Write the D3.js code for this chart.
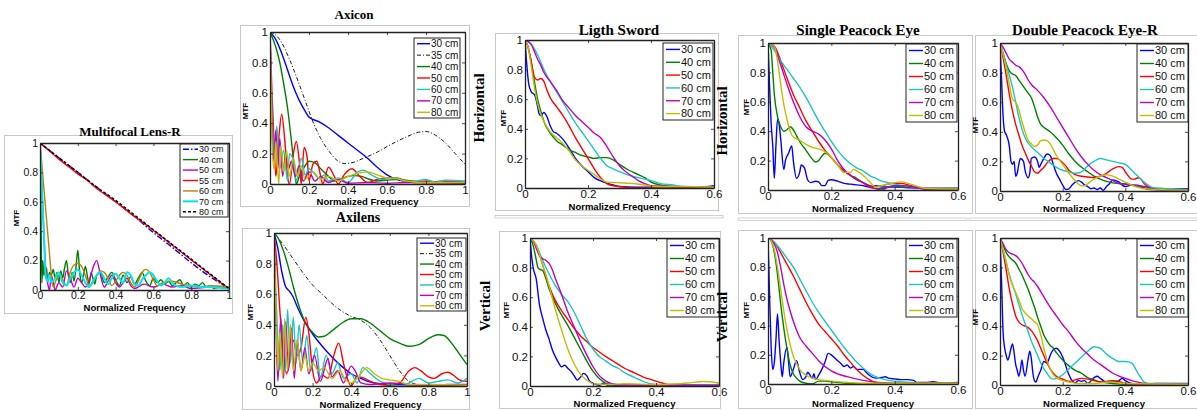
<!DOCTYPE html>
<html><head><meta charset="utf-8">
<script src="https://cdn.jsdelivr.net/npm/d3@7"></script>
<style>body{margin:0;background:#fff}svg{display:block}</style>
</head><body><svg id="c" width="1197" height="410"></svg>
<script>
// ---------- tick & label arrays ----------
const yTicks = [0, 0.2, 0.4, 0.6, 0.8, 1];
const xTicks10 = [0, 0.2, 0.4, 0.6, 0.8, 1];
const xTicks06 = [0, 0.2, 0.4, 0.6];
const labelsMF = ["30 cm","40 cm","50 cm","55 cm","60 cm","70 cm","80 cm"];
const labelsAx = ["30 cm","35 cm","40 cm","50 cm","60 cm","70 cm","80 cm"];
const labels6 = ["30 cm","40 cm","50 cm","60 cm","70 cm","80 cm"];

// ---------- Multifocal Lens-R ----------
const mf30 = [[0,1],[0.1,0.9],[0.2,0.8],[0.3,0.7],[0.4,0.6],[0.5,0.5],[0.6,0.39],[0.7,0.29],[0.8,0.185],[0.9,0.09],[1,0.01]];
const mf40 = [[0,1],[0.005,0.5],[0.01,0.05],[0.015,0.2],[0.02,0.1],[0.025,0.17],[0.03,0.08],[0.035,0.15],[0.04,0.05],[0.05,0.12],[0.06,0.1],[0.07,0.14],[0.08,0.08],[0.09,0.12],[0.1,0.05],[0.11,0.13],[0.12,0.08],[0.13,0.15],[0.14,0.2],[0.15,0.1],[0.16,0.05],[0.17,0.12],[0.18,0.06],[0.19,0.15],[0.2,0.27],[0.21,0.12],[0.22,0.05],[0.23,0.1],[0.24,0.16],[0.25,0.1],[0.26,0.04],[0.27,0.12],[0.28,0.08],[0.29,0.04],[0.3,0.1],[0.32,0.12],[0.34,0.05],[0.36,0.09],[0.38,0.12],[0.4,0.07],[0.42,0.03],[0.44,0.1],[0.46,0.05],[0.48,0.09],[0.5,0.04],[0.52,0.08],[0.54,0.12],[0.56,0.06],[0.58,0.03],[0.6,0.08],[0.62,0.05],[0.64,0.07],[0.66,0.04],[0.68,0.06],[0.7,0.03],[0.72,0.05],[0.74,0.07],[0.76,0.03],[0.78,0.05],[0.8,0.02],[0.82,0.04],[0.84,0.03],[0.86,0.05],[0.88,0.02],[0.9,0.03],[0.92,0.01],[0.95,0.02],[0.98,0.015],[1,0.01]];
const mf50 = [[0,1],[0.01,0.7],[0.02,0.4],[0.03,0.15],[0.04,0.05],[0.05,0.0],[0.06,0.1],[0.07,0.05],[0.08,0.0],[0.1,0.05],[0.12,0.02],[0.14,0.13],[0.16,0.08],[0.18,0.02],[0.2,0.08],[0.22,0.05],[0.24,0.02],[0.26,0.06],[0.28,0.15],[0.3,0.2],[0.32,0.1],[0.34,0.02],[0.36,0.06],[0.38,0.1],[0.4,0.05],[0.42,0.02],[0.44,0.05],[0.46,0.08],[0.48,0.03],[0.5,0.01],[0.55,0.04],[0.6,0.02],[0.65,0.04],[0.7,0.02],[0.75,0.03],[0.8,0.01],[0.9,0.02],[1,0.01]];
const mf55 = [[0,1],[0.05,0.945],[0.1,0.89],[0.15,0.84],[0.2,0.79],[0.25,0.745],[0.3,0.69],[0.35,0.645],[0.4,0.6],[0.45,0.55],[0.5,0.5],[0.55,0.455],[0.6,0.405],[0.65,0.355],[0.7,0.305],[0.75,0.255],[0.8,0.205],[0.85,0.155],[0.9,0.105],[0.95,0.055],[1,0.01]];
const mf60 = [[0,1],[0.01,0.85],[0.02,0.7],[0.03,0.55],[0.04,0.4],[0.05,0.25],[0.06,0.1],[0.07,0.02],[0.08,0.05],[0.1,0.1],[0.12,0.07],[0.14,0.03],[0.16,0.12],[0.18,0.17],[0.2,0.18],[0.22,0.16],[0.24,0.1],[0.26,0.03],[0.28,0.05],[0.3,0.1],[0.32,0.13],[0.34,0.12],[0.36,0.08],[0.38,0.03],[0.4,0.06],[0.42,0.1],[0.44,0.12],[0.46,0.1],[0.48,0.05],[0.5,0.02],[0.52,0.06],[0.54,0.12],[0.56,0.14],[0.58,0.12],[0.6,0.07],[0.62,0.03],[0.65,0.05],[0.7,0.06],[0.75,0.04],[0.8,0.03],[0.85,0.02],[0.9,0.03],[1,0.02]];
const mf70 = [[0,1],[0.01,0.7],[0.02,0.4],[0.03,0.1],[0.04,0.06],[0.05,0.1],[0.06,0.05],[0.08,0.08],[0.1,0.12],[0.12,0.05],[0.14,0.03],[0.16,0.08],[0.18,0.12],[0.2,0.14],[0.22,0.1],[0.24,0.05],[0.26,0.02],[0.28,0.06],[0.3,0.1],[0.32,0.12],[0.34,0.08],[0.36,0.04],[0.38,0.08],[0.4,0.11],[0.42,0.08],[0.44,0.05],[0.46,0.12],[0.48,0.1],[0.5,0.04],[0.52,0.03],[0.54,0.07],[0.56,0.1],[0.58,0.12],[0.6,0.1],[0.62,0.06],[0.64,0.03],[0.66,0.05],[0.68,0.08],[0.7,0.05],[0.72,0.03],[0.75,0.02],[0.8,0.03],[0.85,0.02],[0.9,0.02],[0.95,0.015],[1,0.01]];
const mf80 = [[0,1],[0.1,0.9],[0.2,0.8],[0.3,0.7],[0.4,0.61],[0.5,0.51],[0.6,0.41],[0.7,0.31],[0.8,0.21],[0.9,0.11],[1,0.01]];

// ---------- Axicon ----------
const ax30 = [[0,1],[0.03,0.95],[0.06,0.86],[0.09,0.75],[0.12,0.64],[0.15,0.55],[0.18,0.48],[0.2,0.44],[0.25,0.41],[0.3,0.37],[0.35,0.32],[0.4,0.27],[0.45,0.22],[0.5,0.17],[0.55,0.11],[0.6,0.06],[0.65,0.03],[0.7,0.015],[0.8,0.01],[1,0.01]];
const ax35 = [[0,1],[0.03,0.98],[0.06,0.93],[0.1,0.82],[0.14,0.69],[0.18,0.55],[0.22,0.41],[0.26,0.3],[0.3,0.22],[0.34,0.16],[0.38,0.135],[0.42,0.14],[0.48,0.17],[0.55,0.21],[0.62,0.26],[0.7,0.31],[0.76,0.34],[0.8,0.345],[0.85,0.32],[0.9,0.27],[0.95,0.2],[1,0.13]];
const ax40 = [[0,1],[0.03,0.9],[0.05,0.8],[0.07,0.66],[0.09,0.5],[0.11,0.28],[0.125,0.1],[0.135,0.0],[0.15,0.05],[0.18,0.12],[0.2,0.15],[0.23,0.14],[0.26,0.1],[0.3,0.05],[0.33,0.02],[0.36,0.03],[0.4,0.05],[0.43,0.055],[0.47,0.05],[0.5,0.035],[0.55,0.02],[0.6,0.025],[0.65,0.03],[0.7,0.025],[0.8,0.01],[0.9,0.02],[1,0.01]];
const ax50 = [[0,1],[0.01,0.6],[0.02,0.3],[0.03,0.05],[0.045,0.3],[0.06,0.46],[0.075,0.3],[0.09,0.05],[0.1,0.0],[0.12,0.2],[0.135,0.28],[0.15,0.15],[0.16,0.0],[0.175,0.24],[0.19,0.18],[0.2,0.02],[0.22,0.13],[0.24,0.15],[0.26,0.05],[0.27,0.0],[0.3,0.11],[0.33,0.05],[0.35,0.0],[0.38,0.06],[0.42,0.1],[0.46,0.05],[0.5,0.01],[0.55,0.03],[0.6,0.04],[0.65,0.04],[0.7,0.02],[0.75,0.01],[0.8,0.02],[0.85,0.015],[0.9,0.02],[1,0.01]];
const ax60 = [[0,1],[0.01,0.5],[0.02,0.2],[0.035,0.38],[0.05,0.1],[0.07,0.22],[0.09,0.02],[0.1,0.2],[0.12,0.15],[0.135,0.02],[0.16,0.17],[0.18,0.06],[0.2,0.1],[0.22,0.08],[0.25,0.04],[0.28,0.06],[0.3,0.02],[0.35,0.04],[0.4,0.01],[0.45,0.08],[0.48,0.09],[0.52,0.06],[0.58,0.03],[0.65,0.04],[0.7,0.01],[0.75,0.02],[0.8,0.03],[0.85,0.01],[0.9,0.025],[1,0.02]];
const ax70 = [[0,1],[0.01,0.4],[0.02,0.15],[0.03,0.35],[0.04,0.1],[0.05,0.3],[0.065,0.05],[0.08,0.2],[0.095,0.1],[0.11,0.15],[0.13,0.05],[0.15,0.12],[0.17,0.02],[0.2,0.08],[0.23,0.02],[0.26,0.05],[0.3,0.01],[0.35,0.03],[0.4,0.005],[0.5,0.01],[0.6,0.005],[0.7,0.01],[1,0.005]];
const ax80 = [[0,1],[0.01,0.3],[0.02,0.1],[0.03,0.28],[0.045,0.0],[0.055,0.25],[0.07,0.08],[0.085,0.22],[0.1,0.05],[0.12,0.17],[0.14,0.05],[0.16,0.12],[0.18,0.03],[0.22,0.08],[0.26,0.03],[0.3,0.05],[0.35,0.02],[0.4,0.05],[0.45,0.07],[0.5,0.08],[0.55,0.06],[0.6,0.04],[0.65,0.035],[0.7,0.02],[0.8,0.01],[1,0.01]];

// ---------- Axilens ----------
const al30 = [[0,1],[0.02,0.9],[0.04,0.75],[0.06,0.65],[0.08,0.62],[0.1,0.58],[0.12,0.52],[0.15,0.44],[0.2,0.34],[0.25,0.26],[0.3,0.19],[0.35,0.13],[0.4,0.08],[0.45,0.05],[0.5,0.025],[0.55,0.015],[0.6,0.01],[1,0.005]];
const al35 = [[0,1],[0.05,0.92],[0.1,0.83],[0.15,0.74],[0.2,0.66],[0.25,0.6],[0.3,0.54],[0.35,0.49],[0.4,0.455],[0.45,0.43],[0.5,0.38],[0.55,0.3],[0.6,0.2],[0.65,0.1],[0.7,0.03],[0.75,0.01],[1,0.005]];
const al40 = [[0,1],[0.02,0.97],[0.05,0.88],[0.08,0.75],[0.1,0.65],[0.13,0.52],[0.16,0.42],[0.2,0.35],[0.23,0.32],[0.26,0.325],[0.3,0.36],[0.35,0.41],[0.4,0.44],[0.45,0.44],[0.5,0.41],[0.55,0.36],[0.6,0.31],[0.65,0.28],[0.7,0.26],[0.75,0.27],[0.8,0.31],[0.85,0.335],[0.88,0.33],[0.92,0.28],[0.96,0.21],[1,0.14]];
const al50 = [[0,1],[0.015,0.8],[0.03,0.5],[0.05,0.2],[0.065,0.08],[0.08,0.15],[0.1,0.3],[0.12,0.2],[0.14,0.25],[0.165,0.45],[0.18,0.35],[0.2,0.1],[0.22,0.02],[0.25,0.07],[0.28,0.05],[0.31,0.2],[0.335,0.28],[0.36,0.15],[0.38,0.05],[0.4,0.0],[0.43,0.06],[0.47,0.05],[0.5,0.03],[0.55,0.01],[0.6,0.005],[0.65,0.02],[0.7,0.1],[0.73,0.12],[0.76,0.1],[0.8,0.06],[0.83,0.05],[0.87,0.08],[0.9,0.09],[0.93,0.07],[0.96,0.04],[1,0.03]];
const al60 = [[0,1],[0.01,0.6],[0.02,0.3],[0.03,0.1],[0.045,0.4],[0.06,0.1],[0.07,0.5],[0.085,0.15],[0.1,0.45],[0.115,0.15],[0.13,0.4],[0.15,0.15],[0.17,0.33],[0.19,0.1],[0.22,0.25],[0.24,0.05],[0.27,0.2],[0.3,0.08],[0.33,0.15],[0.36,0.05],[0.4,0.08],[0.43,0.02],[0.46,0.12],[0.5,0.08],[0.55,0.03],[0.6,0.01],[0.65,0.0],[0.7,0.02],[0.75,0.05],[0.8,0.02],[0.85,0.03],[0.9,0.04],[0.95,0.02],[1,0.05]];
const al70 = [[0,1],[0.01,0.4],[0.02,0.03],[0.035,0.45],[0.05,0.05],[0.06,0.42],[0.075,0.1],[0.09,0.38],[0.105,0.05],[0.12,0.3],[0.14,0.1],[0.16,0.25],[0.18,0.08],[0.21,0.2],[0.24,0.03],[0.28,0.18],[0.3,0.06],[0.33,0.1],[0.36,0.02],[0.4,0.13],[0.42,0.1],[0.45,0.02],[0.5,0.01],[0.6,0.02],[0.7,0.01],[0.8,0.0],[0.9,0.01],[1,0.01]];
const al80 = [[0,1],[0.01,0.5],[0.02,0.1],[0.03,0.35],[0.045,0.05],[0.055,0.44],[0.07,0.1],[0.085,0.4],[0.1,0.1],[0.12,0.3],[0.14,0.1],[0.16,0.2],[0.18,0.1],[0.2,0.15],[0.23,0.1],[0.26,0.12],[0.3,0.05],[0.34,0.1],[0.37,0.04],[0.4,0.02],[0.45,0.08],[0.48,0.12],[0.52,0.08],[0.56,0.05],[0.6,0.04],[0.65,0.03],[0.7,0.01],[0.8,0.01],[1,0.005]];

// ---------- Ligth Sword Horizontal ----------
const lsh30 = [[0,1],[0.005,0.85],[0.012,0.7],[0.02,0.65],[0.03,0.63],[0.035,0.6],[0.04,0.55],[0.045,0.5],[0.05,0.49],[0.06,0.51],[0.07,0.48],[0.08,0.42],[0.09,0.38],[0.1,0.37],[0.12,0.33],[0.14,0.27],[0.16,0.2],[0.18,0.15],[0.2,0.11],[0.22,0.07],[0.25,0.04],[0.28,0.02],[0.3,0.01],[0.35,0.005],[0.45,0.01],[0.55,0.005],[0.6,0.015]];
const lsh40 = [[0,1],[0.01,0.95],[0.02,0.85],[0.03,0.72],[0.04,0.6],[0.05,0.52],[0.06,0.45],[0.08,0.37],[0.1,0.32],[0.12,0.29],[0.14,0.26],[0.16,0.24],[0.18,0.22],[0.2,0.21],[0.22,0.2],[0.24,0.205],[0.26,0.205],[0.28,0.19],[0.3,0.16],[0.33,0.12],[0.36,0.09],[0.38,0.07],[0.4,0.04],[0.43,0.02],[0.47,0.01],[0.6,0.005]];
const lsh50 = [[0,1],[0.01,0.95],[0.02,0.85],[0.03,0.75],[0.04,0.73],[0.05,0.74],[0.06,0.72],[0.07,0.66],[0.08,0.61],[0.1,0.55],[0.12,0.49],[0.14,0.42],[0.16,0.34],[0.18,0.27],[0.2,0.2],[0.22,0.13],[0.24,0.07],[0.26,0.03],[0.28,0.015],[0.3,0.01],[0.35,0.0],[0.6,0.0]];
const lsh60 = [[0,1],[0.02,0.97],[0.04,0.9],[0.06,0.8],[0.08,0.72],[0.1,0.65],[0.12,0.58],[0.14,0.51],[0.16,0.44],[0.18,0.38],[0.2,0.32],[0.22,0.26],[0.24,0.2],[0.26,0.15],[0.28,0.13],[0.3,0.11],[0.33,0.085],[0.36,0.07],[0.4,0.05],[0.43,0.03],[0.47,0.02],[0.5,0.01],[0.6,0.005]];
const lsh70 = [[0,1],[0.02,0.97],[0.03,0.92],[0.04,0.87],[0.05,0.83],[0.06,0.78],[0.08,0.72],[0.1,0.66],[0.12,0.59],[0.14,0.54],[0.16,0.49],[0.18,0.45],[0.2,0.41],[0.22,0.37],[0.24,0.34],[0.26,0.28],[0.28,0.21],[0.3,0.15],[0.32,0.11],[0.34,0.08],[0.36,0.05],[0.38,0.03],[0.4,0.015],[0.45,0.01],[0.6,0.005]];
const lsh80 = [[0,1],[0.01,0.95],[0.02,0.82],[0.03,0.68],[0.04,0.57],[0.05,0.5],[0.06,0.45],[0.08,0.38],[0.1,0.34],[0.12,0.3],[0.14,0.25],[0.16,0.19],[0.18,0.15],[0.2,0.12],[0.22,0.09],[0.24,0.06],[0.26,0.04],[0.3,0.035],[0.34,0.03],[0.38,0.02],[0.42,0.01],[0.46,0.01],[0.5,0.01],[0.6,0.005]];

// ---------- Ligth Sword Vertical ----------
const lsv30 = [[0,1],[0.005,0.88],[0.01,0.8],[0.02,0.72],[0.03,0.55],[0.04,0.46],[0.05,0.38],[0.06,0.32],[0.07,0.25],[0.08,0.2],[0.09,0.16],[0.1,0.13],[0.11,0.14],[0.12,0.12],[0.13,0.1],[0.14,0.07],[0.15,0.04],[0.16,0.06],[0.17,0.085],[0.18,0.07],[0.19,0.03],[0.2,0.02],[0.21,0.01],[0.22,0.005],[0.235,0.02],[0.25,0.0],[0.3,0.005],[0.6,0.005]];
const lsv40 = [[0,1],[0.01,0.95],[0.02,0.85],[0.025,0.8],[0.03,0.79],[0.04,0.78],[0.05,0.73],[0.06,0.66],[0.08,0.56],[0.1,0.48],[0.12,0.41],[0.14,0.33],[0.16,0.25],[0.18,0.17],[0.2,0.1],[0.22,0.05],[0.24,0.02],[0.26,0.01],[0.3,0.005],[0.6,0.005]];
const lsv50 = [[0,1],[0.02,0.95],[0.04,0.82],[0.06,0.68],[0.08,0.58],[0.1,0.51],[0.12,0.45],[0.14,0.39],[0.16,0.34],[0.18,0.3],[0.2,0.26],[0.22,0.23],[0.24,0.2],[0.27,0.16],[0.3,0.12],[0.33,0.09],[0.36,0.06],[0.39,0.04],[0.42,0.02],[0.45,0.005],[0.5,0.0],[0.6,0.0]];
const lsv60 = [[0,1],[0.02,0.95],[0.04,0.85],[0.06,0.76],[0.08,0.68],[0.1,0.62],[0.12,0.57],[0.14,0.5],[0.16,0.41],[0.18,0.32],[0.2,0.25],[0.22,0.2],[0.24,0.17],[0.26,0.14],[0.28,0.12],[0.3,0.09],[0.33,0.06],[0.36,0.03],[0.4,0.01],[0.45,0.005],[0.6,0.01]];
const lsv70 = [[0,1],[0.01,0.98],[0.02,0.93],[0.03,0.88],[0.04,0.86],[0.05,0.85],[0.06,0.83],[0.07,0.79],[0.08,0.73],[0.1,0.62],[0.12,0.5],[0.14,0.4],[0.16,0.3],[0.18,0.21],[0.2,0.13],[0.22,0.07],[0.24,0.035],[0.26,0.015],[0.3,0.005],[0.6,0.005]];
const lsv80 = [[0,1],[0.02,0.95],[0.04,0.82],[0.06,0.68],[0.08,0.52],[0.1,0.38],[0.12,0.25],[0.14,0.15],[0.16,0.08],[0.18,0.04],[0.2,0.015],[0.25,0.01],[0.3,0.015],[0.4,0.01],[0.5,0.02],[0.55,0.03],[0.6,0.02]];

// ---------- Single Peacock Eye Horizontal ----------
const speh30 = [[0,1],[0.005,0.7],[0.01,0.45],[0.015,0.3],[0.02,0.08],[0.025,0.3],[0.03,0.48],[0.035,0.45],[0.04,0.35],[0.05,0.14],[0.055,0.2],[0.065,0.25],[0.075,0.3],[0.08,0.2],[0.09,0.08],[0.1,0.12],[0.105,0.17],[0.115,0.15],[0.125,0.07],[0.135,0.05],[0.15,0.06],[0.16,0.055],[0.17,0.03],[0.18,0.03],[0.19,0.065],[0.2,0.07],[0.22,0.06],[0.24,0.045],[0.26,0.04],[0.28,0.035],[0.3,0.03],[0.32,0.02],[0.34,0.03],[0.36,0.02],[0.4,0.02],[0.45,0.015],[0.5,0.01],[0.6,0.01]];
const speh40 = [[0,1],[0.01,0.95],[0.015,0.8],[0.02,0.65],[0.03,0.5],[0.04,0.43],[0.05,0.4],[0.06,0.41],[0.07,0.43],[0.08,0.41],[0.09,0.37],[0.1,0.33],[0.12,0.27],[0.14,0.21],[0.15,0.19],[0.16,0.2],[0.17,0.23],[0.18,0.25],[0.2,0.22],[0.22,0.17],[0.24,0.13],[0.26,0.1],[0.28,0.08],[0.3,0.05],[0.32,0.03],[0.34,0.01],[0.36,0.01],[0.38,0.02],[0.4,0.03],[0.42,0.02],[0.45,0.02],[0.5,0.01],[0.6,0.01]];
const speh50 = [[0,1],[0.02,0.98],[0.04,0.88],[0.06,0.76],[0.08,0.65],[0.1,0.56],[0.12,0.47],[0.14,0.4],[0.16,0.33],[0.18,0.27],[0.2,0.22],[0.22,0.17],[0.24,0.13],[0.26,0.1],[0.28,0.07],[0.3,0.05],[0.32,0.03],[0.34,0.025],[0.36,0.03],[0.38,0.04],[0.4,0.045],[0.42,0.045],[0.45,0.03],[0.48,0.015],[0.5,0.01],[0.6,0.01]];
const speh60 = [[0,1],[0.02,0.95],[0.04,0.88],[0.06,0.82],[0.08,0.76],[0.1,0.7],[0.12,0.63],[0.14,0.55],[0.16,0.47],[0.18,0.4],[0.2,0.33],[0.22,0.27],[0.24,0.22],[0.26,0.18],[0.28,0.15],[0.3,0.13],[0.32,0.1],[0.34,0.08],[0.36,0.06],[0.38,0.05],[0.4,0.04],[0.43,0.03],[0.46,0.02],[0.5,0.01],[0.6,0.01]];
const speh70 = [[0,1],[0.02,0.97],[0.04,0.85],[0.06,0.72],[0.08,0.6],[0.1,0.5],[0.12,0.43],[0.14,0.4],[0.16,0.38],[0.18,0.34],[0.2,0.28],[0.22,0.2],[0.24,0.14],[0.26,0.1],[0.28,0.07],[0.3,0.05],[0.32,0.02],[0.34,0.01],[0.36,0.0],[0.38,0.02],[0.4,0.03],[0.43,0.03],[0.46,0.02],[0.5,0.005],[0.6,0.005]];
const speh80 = [[0,1],[0.01,0.99],[0.02,0.98],[0.03,0.88],[0.04,0.72],[0.05,0.58],[0.06,0.48],[0.07,0.4],[0.08,0.36],[0.1,0.34],[0.12,0.31],[0.14,0.29],[0.16,0.28],[0.18,0.26],[0.2,0.22],[0.22,0.17],[0.24,0.12],[0.26,0.12],[0.27,0.14],[0.28,0.13],[0.3,0.1],[0.32,0.06],[0.34,0.02],[0.36,0.03],[0.38,0.04],[0.4,0.05],[0.42,0.055],[0.45,0.04],[0.48,0.02],[0.5,0.01],[0.6,0.005]];

// ---------- Single Peacock Eye Vertical ----------
const spev30 = [[0,1],[0.005,0.6],[0.01,0.25],[0.015,0.1],[0.02,0.15],[0.025,0.3],[0.03,0.48],[0.035,0.3],[0.04,0.15],[0.045,0.05],[0.05,0.15],[0.06,0.25],[0.065,0.15],[0.07,0.05],[0.08,0.1],[0.09,0.16],[0.1,0.08],[0.11,0.03],[0.12,0.05],[0.125,0.08],[0.13,0.07],[0.14,0.04],[0.145,0.07],[0.15,0.03],[0.16,0.06],[0.17,0.1],[0.18,0.15],[0.19,0.21],[0.2,0.2],[0.21,0.18],[0.22,0.16],[0.23,0.14],[0.24,0.12],[0.25,0.13],[0.26,0.11],[0.27,0.12],[0.28,0.1],[0.3,0.1],[0.31,0.08],[0.32,0.06],[0.34,0.04],[0.36,0.045],[0.37,0.05],[0.38,0.04],[0.4,0.035],[0.42,0.03],[0.44,0.03],[0.46,0.025],[0.47,0.01],[0.5,0.01],[0.52,0.015],[0.55,0.005],[0.6,0.01]];
const spev40 = [[0,1],[0.01,0.98],[0.02,0.9],[0.03,0.75],[0.04,0.55],[0.05,0.38],[0.06,0.24],[0.07,0.13],[0.08,0.07],[0.09,0.04],[0.1,0.02],[0.12,0.005],[0.14,0.0],[0.16,0.02],[0.18,0.02],[0.2,0.015],[0.25,0.005],[0.3,0.0],[0.6,0.0]];
const spev50 = [[0,1],[0.02,0.97],[0.04,0.9],[0.06,0.82],[0.08,0.74],[0.1,0.65],[0.12,0.56],[0.14,0.48],[0.16,0.41],[0.18,0.36],[0.2,0.31],[0.22,0.26],[0.24,0.2],[0.26,0.15],[0.28,0.1],[0.3,0.06],[0.32,0.03],[0.34,0.01],[0.36,0.005],[0.6,0.0]];
const spev60 = [[0,1],[0.02,0.97],[0.04,0.92],[0.06,0.86],[0.08,0.8],[0.1,0.72],[0.12,0.64],[0.14,0.56],[0.16,0.49],[0.18,0.43],[0.2,0.37],[0.22,0.31],[0.24,0.25],[0.26,0.2],[0.28,0.15],[0.3,0.11],[0.32,0.075],[0.34,0.05],[0.36,0.035],[0.38,0.025],[0.4,0.02],[0.45,0.01],[0.5,0.005],[0.6,0.005]];
const spev70 = [[0,1],[0.02,0.96],[0.03,0.9],[0.04,0.8],[0.05,0.68],[0.06,0.58],[0.07,0.5],[0.08,0.43],[0.09,0.37],[0.1,0.32],[0.12,0.26],[0.14,0.21],[0.16,0.16],[0.18,0.12],[0.2,0.09],[0.22,0.07],[0.25,0.05],[0.3,0.025],[0.35,0.01],[0.4,0.005],[0.6,0.005]];
const spev80 = [[0,1],[0.01,0.98],[0.02,0.92],[0.03,0.8],[0.04,0.65],[0.05,0.5],[0.06,0.37],[0.07,0.27],[0.08,0.19],[0.09,0.14],[0.1,0.1],[0.12,0.06],[0.14,0.04],[0.16,0.03],[0.18,0.025],[0.2,0.02],[0.25,0.01],[0.3,0.005],[0.6,0.005]];

// ---------- Double Peacock Eye-R Horizontal ----------
const dpeh30 = [[0,1],[0.005,0.75],[0.01,0.5],[0.015,0.4],[0.02,0.38],[0.03,0.3],[0.035,0.2],[0.04,0.18],[0.045,0.2],[0.05,0.1],[0.055,0.12],[0.06,0.18],[0.065,0.22],[0.075,0.2],[0.08,0.14],[0.09,0.09],[0.095,0.12],[0.1,0.22],[0.11,0.23],[0.12,0.2],[0.125,0.16],[0.13,0.18],[0.14,0.22],[0.15,0.25],[0.16,0.24],[0.17,0.18],[0.18,0.12],[0.19,0.08],[0.2,0.04],[0.21,0.01],[0.22,0.015],[0.23,0.04],[0.24,0.06],[0.25,0.07],[0.26,0.06],[0.27,0.04],[0.28,0.03],[0.29,0.015],[0.3,0.02],[0.31,0.01],[0.32,0.02],[0.33,0.005],[0.34,0.03],[0.35,0.05],[0.36,0.075],[0.37,0.07],[0.38,0.06],[0.39,0.04],[0.4,0.03],[0.42,0.04],[0.44,0.04],[0.46,0.02],[0.48,0.01],[0.5,0.01],[0.55,0.015],[0.6,0.015]];
const dpeh40 = [[0,1],[0.01,0.93],[0.02,0.86],[0.03,0.81],[0.04,0.79],[0.05,0.78],[0.06,0.75],[0.07,0.72],[0.08,0.69],[0.09,0.66],[0.1,0.63],[0.11,0.57],[0.12,0.5],[0.13,0.45],[0.14,0.43],[0.16,0.4],[0.18,0.36],[0.2,0.31],[0.22,0.25],[0.24,0.2],[0.26,0.16],[0.28,0.13],[0.3,0.1],[0.32,0.08],[0.34,0.065],[0.36,0.055],[0.38,0.05],[0.4,0.05],[0.42,0.04],[0.44,0.03],[0.46,0.02],[0.5,0.01],[0.6,0.005]];
const dpeh50 = [[0,1],[0.01,0.9],[0.02,0.78],[0.03,0.65],[0.04,0.54],[0.05,0.45],[0.06,0.38],[0.07,0.31],[0.08,0.26],[0.09,0.21],[0.1,0.17],[0.11,0.13],[0.12,0.12],[0.13,0.14],[0.14,0.16],[0.15,0.19],[0.16,0.21],[0.17,0.22],[0.18,0.22],[0.19,0.21],[0.2,0.19],[0.21,0.17],[0.22,0.14],[0.24,0.11],[0.26,0.1],[0.28,0.095],[0.3,0.09],[0.32,0.1],[0.34,0.12],[0.36,0.15],[0.38,0.165],[0.39,0.16],[0.4,0.13],[0.41,0.1],[0.42,0.08],[0.43,0.08],[0.44,0.09],[0.45,0.08],[0.46,0.05],[0.48,0.02],[0.5,0.01],[0.6,0.005]];
const dpeh60 = [[0,1],[0.01,0.93],[0.02,0.85],[0.03,0.78],[0.04,0.7],[0.05,0.6],[0.06,0.5],[0.07,0.42],[0.08,0.36],[0.1,0.3],[0.12,0.26],[0.14,0.22],[0.16,0.19],[0.18,0.16],[0.2,0.14],[0.22,0.13],[0.24,0.12],[0.26,0.13],[0.28,0.17],[0.3,0.2],[0.32,0.22],[0.34,0.21],[0.36,0.2],[0.38,0.19],[0.4,0.18],[0.42,0.14],[0.44,0.1],[0.46,0.06],[0.48,0.03],[0.5,0.02],[0.55,0.015],[0.6,0.01]];
const dpeh70 = [[0,1],[0.01,0.97],[0.02,0.93],[0.03,0.89],[0.04,0.87],[0.05,0.85],[0.06,0.84],[0.07,0.82],[0.08,0.79],[0.09,0.75],[0.1,0.72],[0.12,0.68],[0.14,0.63],[0.16,0.57],[0.18,0.5],[0.2,0.43],[0.22,0.36],[0.24,0.29],[0.26,0.23],[0.28,0.18],[0.3,0.14],[0.32,0.11],[0.34,0.09],[0.36,0.07],[0.38,0.05],[0.4,0.045],[0.42,0.04],[0.44,0.035],[0.46,0.03],[0.48,0.02],[0.5,0.01],[0.6,0.005]];
const dpeh80 = [[0,1],[0.01,0.92],[0.02,0.83],[0.03,0.72],[0.04,0.62],[0.05,0.6],[0.06,0.55],[0.07,0.47],[0.08,0.4],[0.09,0.34],[0.1,0.32],[0.11,0.3],[0.12,0.31],[0.13,0.34],[0.14,0.345],[0.15,0.34],[0.16,0.32],[0.17,0.28],[0.18,0.24],[0.2,0.18],[0.22,0.12],[0.24,0.07],[0.26,0.035],[0.27,0.035],[0.28,0.05],[0.3,0.08],[0.32,0.1],[0.34,0.11],[0.36,0.1],[0.38,0.08],[0.4,0.06],[0.42,0.04],[0.44,0.025],[0.46,0.015],[0.5,0.01],[0.6,0.005]];

// ---------- Double Peacock Eye-R Vertical ----------
const dpev30 = [[0,1],[0.005,0.7],[0.01,0.35],[0.015,0.25],[0.02,0.2],[0.025,0.17],[0.03,0.2],[0.035,0.25],[0.04,0.28],[0.045,0.22],[0.05,0.14],[0.055,0.1],[0.06,0.06],[0.065,0.1],[0.07,0.17],[0.075,0.1],[0.08,0.06],[0.09,0.18],[0.095,0.23],[0.1,0.18],[0.105,0.08],[0.11,0.03],[0.115,0.02],[0.12,0.05],[0.13,0.1],[0.14,0.16],[0.15,0.15],[0.16,0.2],[0.17,0.24],[0.18,0.25],[0.19,0.23],[0.2,0.19],[0.21,0.13],[0.22,0.07],[0.23,0.03],[0.24,0.015],[0.25,0.03],[0.26,0.025],[0.27,0.03],[0.28,0.01],[0.3,0.05],[0.31,0.06],[0.32,0.045],[0.33,0.03],[0.34,0.02],[0.36,0.02],[0.38,0.03],[0.39,0.045],[0.4,0.03],[0.42,0.01],[0.45,0.005],[0.5,0.01],[0.6,0.01]];
const dpev40 = [[0,1],[0.01,0.95],[0.02,0.9],[0.03,0.87],[0.04,0.85],[0.05,0.83],[0.06,0.79],[0.07,0.75],[0.08,0.7],[0.09,0.65],[0.1,0.59],[0.11,0.53],[0.12,0.46],[0.13,0.4],[0.14,0.34],[0.15,0.3],[0.16,0.27],[0.17,0.25],[0.18,0.22],[0.2,0.17],[0.22,0.13],[0.24,0.1],[0.26,0.08],[0.28,0.05],[0.3,0.035],[0.32,0.02],[0.34,0.015],[0.36,0.01],[0.4,0.005],[0.6,0.005]];
const dpev50 = [[0,1],[0.01,0.9],[0.02,0.78],[0.03,0.65],[0.04,0.55],[0.05,0.47],[0.06,0.43],[0.07,0.41],[0.08,0.4],[0.09,0.39],[0.1,0.37],[0.11,0.34],[0.12,0.3],[0.13,0.25],[0.14,0.2],[0.15,0.15],[0.16,0.11],[0.17,0.08],[0.18,0.06],[0.2,0.04],[0.22,0.025],[0.24,0.035],[0.26,0.045],[0.28,0.04],[0.3,0.03],[0.32,0.02],[0.34,0.025],[0.36,0.03],[0.38,0.025],[0.4,0.01],[0.45,0.005],[0.6,0.005]];
const dpev60 = [[0,1],[0.01,0.92],[0.02,0.83],[0.03,0.75],[0.04,0.68],[0.05,0.62],[0.06,0.55],[0.07,0.48],[0.08,0.42],[0.09,0.36],[0.1,0.3],[0.11,0.25],[0.12,0.2],[0.13,0.15],[0.14,0.11],[0.15,0.08],[0.16,0.05],[0.17,0.04],[0.18,0.045],[0.2,0.07],[0.22,0.11],[0.24,0.15],[0.26,0.19],[0.28,0.23],[0.3,0.26],[0.32,0.25],[0.34,0.21],[0.36,0.18],[0.38,0.16],[0.4,0.16],[0.42,0.15],[0.43,0.12],[0.44,0.08],[0.45,0.05],[0.46,0.02],[0.48,0.01],[0.5,0.01],[0.6,0.005]];
const dpev70 = [[0,1],[0.01,0.96],[0.02,0.92],[0.03,0.9],[0.04,0.89],[0.05,0.88],[0.06,0.86],[0.07,0.83],[0.08,0.79],[0.09,0.75],[0.1,0.72],[0.11,0.7],[0.12,0.67],[0.14,0.6],[0.16,0.53],[0.18,0.47],[0.2,0.41],[0.22,0.36],[0.24,0.3],[0.26,0.25],[0.28,0.21],[0.3,0.17],[0.32,0.14],[0.34,0.11],[0.36,0.08],[0.38,0.06],[0.4,0.045],[0.42,0.03],[0.44,0.02],[0.46,0.01],[0.5,0.005],[0.6,0.005]];
const dpev80 = [[0,1],[0.01,0.92],[0.02,0.84],[0.03,0.74],[0.04,0.68],[0.05,0.63],[0.06,0.58],[0.07,0.52],[0.08,0.49],[0.09,0.47],[0.1,0.45],[0.11,0.43],[0.12,0.41],[0.13,0.34],[0.14,0.25],[0.15,0.17],[0.16,0.11],[0.17,0.07],[0.18,0.05],[0.2,0.03],[0.22,0.02],[0.25,0.01],[0.3,0.01],[0.35,0.02],[0.4,0.01],[0.6,0.005]];

// ---------- styles ----------
const C = {blue:"#0000ff", green:"#008000", red:"#ff0000", cyan:"#1cc4c4", mag:"#c000c0", olive:"#bfbf00", brown:"#bf7f00", black:"#000"};
const stylesMF = [
  {c:C.blue, w:1.4, d:"6,2,1.5,2"}, {c:C.green, w:1.4}, {c:C.mag, w:1.4}, {c:C.red, w:1.4},
  {c:C.brown, w:1.4}, {c:"#00e5ee", w:2}, {c:C.black, w:1.4, d:"3,2"}];
const stylesAx = [
  {c:C.blue, w:1.4}, {c:C.black, w:0.9, d:"4,2,1,2"}, {c:C.green, w:1.4}, {c:C.red, w:1.4},
  {c:C.cyan, w:1.4}, {c:C.mag, w:1.4}, {c:C.olive, w:1.4}];
const styles6 = [
  {c:C.blue, w:1.4}, {c:C.green, w:1.4}, {c:C.red, w:1.4},
  {c:C.cyan, w:1.4}, {c:C.mag, w:1.4}, {c:C.olive, w:1.4}];

// ---------- panel layout ----------
const panels = [
  {plot:[40,143,229,290], frame:[4,135,232,313], xmax:1, xt:xTicks10, title:"Multifocal Lens-R", tx:130, ty:136, ts:13,
   series:[mf30,mf40,mf50,mf55,mf60,mf70,mf80], labels:labelsMF, styles:stylesMF, leg:[180,144,228,217], lf:9, ll:15, tf:10.5, mtf:[16,218], xly:311},
  {plot:[270,32,465,184], frame:[240,25,469,206], xmax:1, xt:xTicks10, title:"Axicon", tx:354, ty:19, ts:13,
   series:[ax30,ax35,ax40,ax50,ax60,ax70,ax80], labels:labelsAx, styles:stylesAx, leg:[414,38,460,118], lf:10, ll:13, tf:11.5, mtf:[245,111], xly:205},
  {plot:[274,233,467,386], frame:[242,228,469,409], xmax:1, xt:xTicks10, title:"Axilens", tx:358, ty:222, ts:14,
   series:[al30,al35,al40,al50,al60,al70,al80], labels:labelsAx, styles:stylesAx, leg:[417,238,466,311], lf:10, ll:14, tf:11.5, mtf:[250,312], xly:407.5},
  {plot:[525,40,714,188], frame:[495,33,718,210], xmax:0.6, xt:xTicks06, title:"Ligth Sword", tx:619, ty:35, ts:15,
   series:[lsh30,lsh40,lsh50,lsh60,lsh70,lsh80], labels:labels6, styles:styles6, leg:[663,43,713,120], lf:11, ll:14, tf:11.5, mtf:[503,118], xly:209.5},
  {plot:[530,238,719,386], frame:[499,231,720,408], xmax:0.6, xt:xTicks06, title:null,
   series:[lsv30,lsv40,lsv50,lsv60,lsv70,lsv80], labels:labels6, styles:styles6, leg:[667,239,719,317], lf:11, ll:14, tf:11.5, mtf:[506,310], xly:407},
  {plot:[768,43,958,190], frame:[738,35,972,213], xmax:0.6, xt:xTicks06, title:"Single Peacock Eye", tx:858, ty:35, ts:15,
   series:[speh30,speh40,speh50,speh60,speh70,speh80], labels:labels6, styles:styles6, leg:[906,44,957,122], lf:11, ll:14, tf:11.5, mtf:[746,107], xly:211.5},
  {plot:[768,238,958,384], frame:[738,230,972,408], xmax:0.6, xt:xTicks06, title:null,
   series:[spev30,spev40,spev50,spev60,spev70,spev80], labels:labels6, styles:styles6, leg:[906,239,957,317], lf:11, ll:14, tf:11.5, mtf:[746,310], xly:406.5},
  {plot:[1000,43,1188,191], frame:[975,35,1197,213], xmax:0.6, xt:xTicks06, title:"Double Peacock Eye-R", tx:1085, ty:35, ts:15,
   series:[dpeh30,dpeh40,dpeh50,dpeh60,dpeh70,dpeh80], labels:labels6, styles:styles6, leg:[1137,44,1188,122], lf:11, ll:14, tf:11.5, mtf:[975,125], xly:211.5},
  {plot:[1000,238,1188,385], frame:[975,230,1197,408], xmax:0.6, xt:xTicks06, title:null,
   series:[dpev30,dpev40,dpev50,dpev60,dpev70,dpev80], labels:labels6, styles:styles6, leg:[1137,239,1188,317], lf:11, ll:14, tf:11.5, mtf:[975,317], xly:406.5}
];

const svg = d3.select("#c");
const SANS = "'Liberation Sans', Arial, Helvetica, sans-serif";
const SERIF = "'Liberation Serif', 'Times New Roman', serif";

[[495,215.5,228,2.5],[738,218,229,2.5],[969,218,228,2.5]].forEach(r=>{
  svg.append("rect").attr("x",r[0]).attr("y",r[1]).attr("width",r[2]).attr("height",r[3])
    .attr("fill","none").attr("stroke","#c8c8c8").attr("stroke-width",0.8);
});

panels.forEach((p,i)=>{
  const [l,t,r,b] = p.plot;
  const [fx0,fy0,fx1,fy1] = p.frame;
  svg.append("rect").attr("x",fx0+0.5).attr("y",fy0+0.5).attr("width",fx1-fx0).attr("height",fy1-fy0)
    .attr("fill","#fff").attr("stroke","#c8c8c8").attr("stroke-width",1);

  const x = d3.scaleLinear().domain([0,p.xmax]).range([l,r]);
  const y = d3.scaleLinear().domain([0,1]).range([b,t]);
  const g = svg.append("g");

  const cid = "clip"+i;
  svg.append("clipPath").attr("id",cid).append("rect").attr("x",l).attr("y",t).attr("width",r-l).attr("height",b-t);

  const line = d3.line().x(d=>x(d[0])).y(d=>y(d[1])).curve(d3.curveMonotoneX);
  const lg = g.append("g").attr("clip-path",`url(#${cid})`);
  p.series.forEach((s,k)=>{
    const st = p.styles[k];
    lg.append("path").attr("d",line(s)).attr("fill","none").attr("stroke",st.c)
      .attr("stroke-width",st.w).attr("stroke-dasharray",st.d||null).attr("stroke-linejoin","round");
  });

  const fmt = d=> d===0?"0":(d===1?"1":d3.format(".1f")(d));
  const ax = g.append("g").attr("transform",`translate(0,${b})`)
    .call(d3.axisBottom(x).tickValues(p.xt).tickFormat(fmt).tickSizeInner(-3).tickSizeOuter(0).tickPadding(2));
  const ay = g.append("g").attr("transform",`translate(${l},0)`)
    .call(d3.axisLeft(y).tickValues(yTicks).tickFormat(fmt).tickSizeInner(-3).tickSizeOuter(0).tickPadding(2));
  const at = g.append("g").attr("transform",`translate(0,${t})`)
    .call(d3.axisTop(x).tickValues(p.xt).tickFormat("").tickSizeInner(-3).tickSizeOuter(0));
  const ar = g.append("g").attr("transform",`translate(${r},0)`)
    .call(d3.axisRight(y).tickValues(yTicks).tickFormat("").tickSizeInner(-3).tickSizeOuter(0));
  [ax,ay,at,ar].forEach(a=>{
    a.selectAll("path.domain").attr("stroke","#222").attr("stroke-width",1.3);
    a.selectAll(".tick line").attr("stroke","#222").attr("stroke-width",0.8);
    a.selectAll("text").attr("font-family",SANS).attr("font-size",p.tf).attr("fill","#111");
  });
  ax.selectAll("text").attr("dy","0.71em");

  g.append("text").attr("x",(l+r)/2).attr("y",p.xly).attr("text-anchor","middle")
    .attr("font-family",SANS).attr("font-weight","bold").attr("font-size",9.5).text("Normalized Frequency");
  g.append("text").attr("transform",`translate(${p.mtf[0]+3},${p.mtf[1]}) rotate(-90)`).attr("text-anchor","middle")
    .attr("font-family",SANS).attr("font-weight","bold").attr("font-size",8).text("MTF");
  if(p.title){
    g.append("text").attr("x",p.tx).attr("y",p.ty).attr("text-anchor","middle")
      .attr("font-family",SERIF).attr("font-weight","bold").attr("font-size",p.ts).text(p.title);
  }

  const [lx0,ly0,lx1,ly1] = p.leg;
  g.append("rect").attr("x",lx0).attr("y",ly0).attr("width",lx1-lx0).attr("height",ly1-ly0)
    .attr("fill","#fff").attr("stroke","#222").attr("stroke-width",1);
  const rowH = (ly1-ly0)/p.labels.length;
  p.labels.forEach((lab,k)=>{
    const st = p.styles[k];
    const cy = ly0 + rowH*(k+0.5);
    g.append("line").attr("x1",lx0+3).attr("x2",lx0+3+p.ll).attr("y1",cy).attr("y2",cy)
      .attr("stroke",st.c).attr("stroke-width",st.w).attr("stroke-dasharray",st.d||null);
    g.append("text").attr("x",lx0+4+p.ll).attr("y",cy).attr("dy","0.35em")
      .attr("font-family",SANS).attr("font-size",p.lf).attr("fill","#111").text(lab);
  });
});

[["Horizontal",479,108],["Horizontal",722,121],["Vertical",485,306],["Vertical",722,317]].forEach(s=>{
  svg.append("text").attr("transform",`translate(${s[1]+5},${s[2]}) rotate(-90)`).attr("text-anchor","middle")
    .attr("font-family",SERIF).attr("font-weight","bold").attr("font-size",15).text(s[0]);
});
</script></body></html>
